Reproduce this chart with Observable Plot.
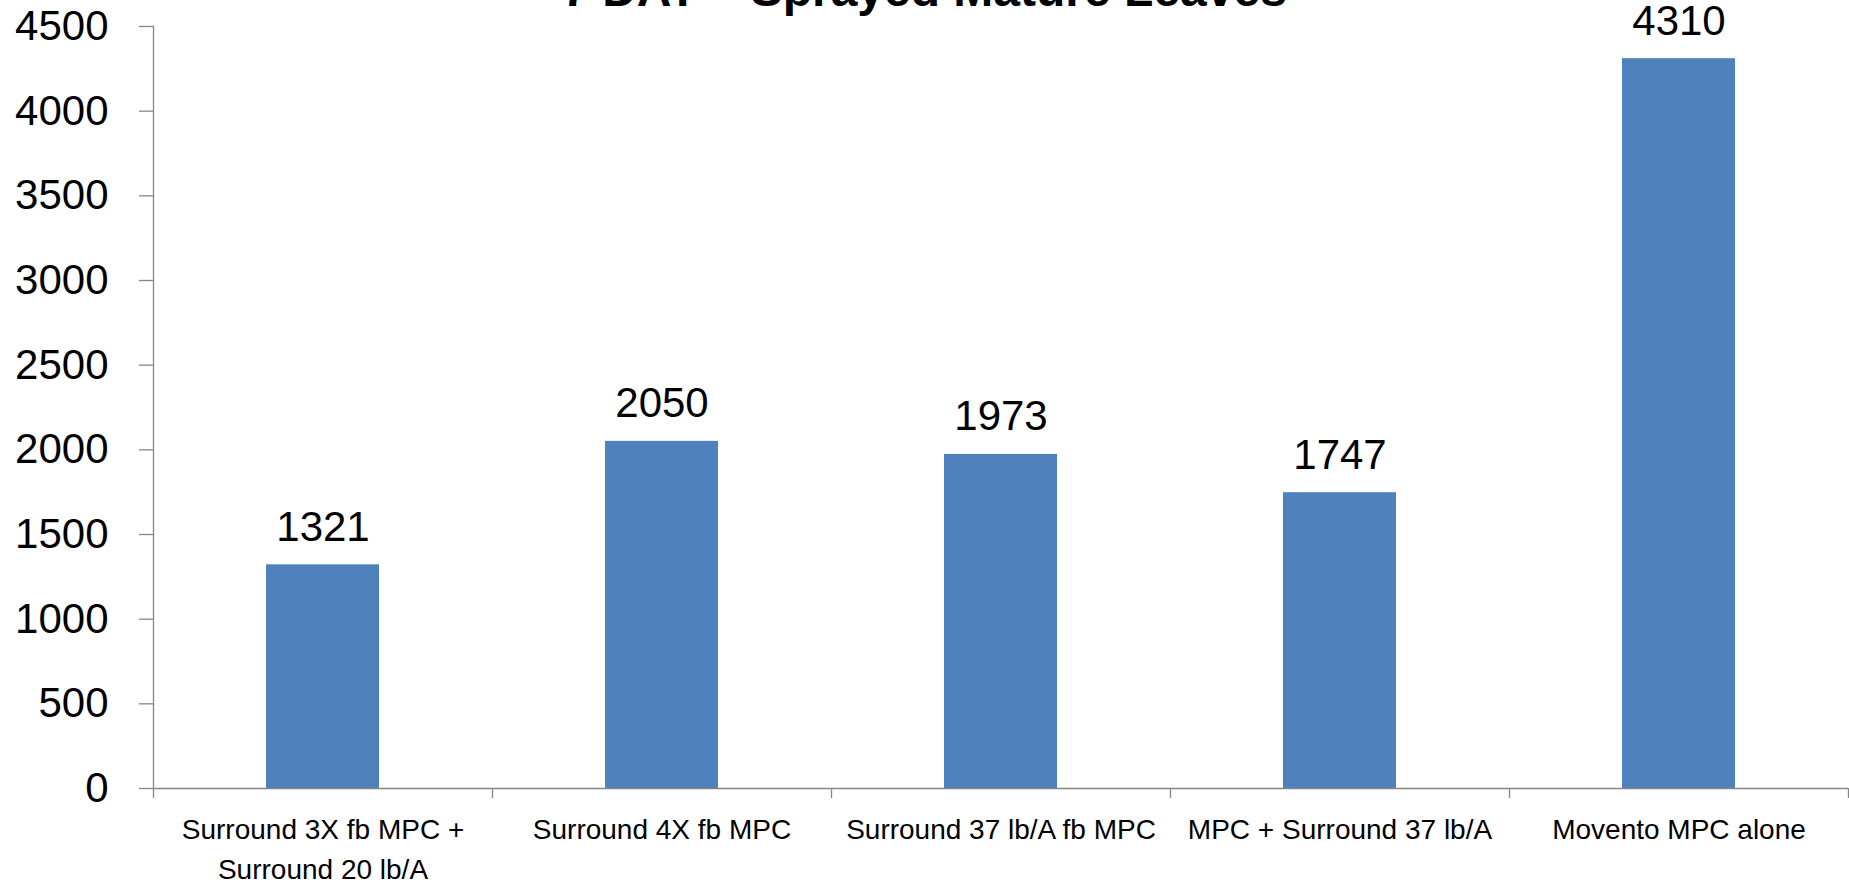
<!DOCTYPE html>
<html>
<head>
<meta charset="utf-8">
<script src="https://cdn.jsdelivr.net/npm/d3@7"></script>
<script src="https://cdn.jsdelivr.net/npm/@observablehq/plot@0.6"></script>
<style>
  html, body { margin: 0; padding: 0; background: #fff; overflow: hidden; }
  #wrap { position: relative; width: 1849px; height: 884px; }
  #title {
    position: absolute; left: 0; width: 1849px; top: -34px;
    text-align: center; font-family: "Liberation Sans", Arial, sans-serif;
    font-weight: bold; font-size: 48px; line-height: 48px; color: #000; z-index: 2;
    white-space: nowrap;
  }
  #chart { position: absolute; left: 0; top: 0; }
</style>
</head>
<body>
<div id="wrap">
  <div id="title">7 DAT – Sprayed Mature Leaves</div>
  <div id="chart"></div>
</div>
<script>
const categories = [
  "Surround 3X fb MPC +\nSurround 20 lb/A",
  "Surround 4X fb MPC",
  "Surround 37 lb/A fb MPC",
  "MPC + Surround 37 lb/A",
  "Movento MPC alone"
];
const values = [1321, 2050, 1973, 1747, 4310];
const yTicks = [0, 500, 1000, 1500, 2000, 2500, 3000, 3500, 4000, 4500];

const data = categories.map((c, i) => ({category: c, value: values[i]}));

const W = 1849, H = 884;
const mL = 153, mR = 1, mT = 26, mB = 96;
const step = (W - mL - mR) / categories.length;
const axisGray = "#868686";
const font = "Liberation Sans, Arial, sans-serif";

const chart = Plot.plot({
  width: W,
  height: H,
  marginLeft: mL,
  marginRight: mR,
  marginTop: mT,
  marginBottom: mB,
  style: {fontFamily: font, background: "#fff", overflow: "visible"},
  x: {domain: categories, paddingInner: 0.667, paddingOuter: 0.3335},
  y: {domain: [0, 4500]},
  marks: [
    Plot.barY(data, {x: "category", y: "value", fill: "#4F81BD"}),
    Plot.ruleY([0], {stroke: axisGray, strokeWidth: 1.3}),
    Plot.frame({anchor: "left", stroke: axisGray, strokeWidth: 1.3}),
    Plot.ruleX(categories, {x: d => d, y1: 0, y2: 0, dx: -step / 2, insetBottom: -10, stroke: axisGray, strokeWidth: 1.3}),
    Plot.ruleX(categories.slice(-1), {x: d => d, y1: 0, y2: 0, dx: step / 2, insetBottom: -10, stroke: axisGray, strokeWidth: 1.3}),
    Plot.axisY({
      ticks: yTicks, tickSize: 14, tickPadding: 31, fontSize: 42,
      stroke: axisGray, strokeWidth: 1.3, fill: "#000",
      tickFormat: d => String(d), label: null
    }),
    Plot.axisX({
      tickSize: 0, tickPadding: 22, fontSize: 28, lineHeight: 1.43,
      fill: "#000", label: null
    }),
    Plot.text(data, {
      x: "category", y: "value", text: d => String(d.value),
      fontSize: 42, fill: "#000", lineAnchor: "bottom", dy: -24
    })
  ]
});
document.getElementById("chart").appendChild(chart);
</script>
</body>
</html>
